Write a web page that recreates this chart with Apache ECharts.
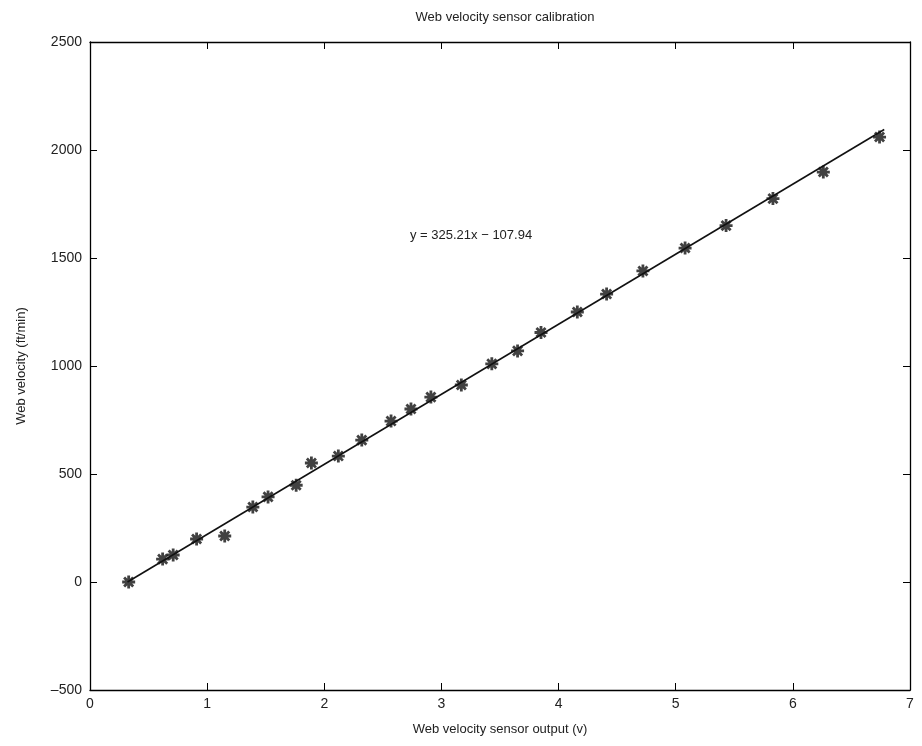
<!DOCTYPE html>
<html><head><meta charset="utf-8">
<script src="https://cdn.jsdelivr.net/npm/echarts@6/dist/echarts.min.js"></script>
<style>html,body{margin:0;padding:0;background:#fff}#c{width:922px;height:746px}</style>
</head><body><div id="c"></div>
<script>
const sensorOutput = [0.33, 0.62, 0.71, 0.91, 1.15, 1.39, 1.52, 1.76, 1.89, 2.12, 2.32, 2.57, 2.74, 2.91, 3.17, 3.43, 3.65, 3.85, 4.16, 4.41, 4.72, 5.08, 5.43, 5.83, 6.26, 6.74];
const velocity     = [0, 106, 125, 199, 213, 347, 394, 448, 551, 583, 657, 745, 801, 856, 912, 1010, 1070, 1155, 1250, 1333, 1440, 1546, 1650, 1775, 1898, 2060];
const fitLineX = [0.32, 6.78];
const fitLineY = [0, 2095];
const xTicks = [0, 7, 1];
const yTicks = [-500, 2500, 500];
const titleText = 'Web velocity sensor calibration';
const xName = 'Web velocity sensor output (v)';
const yName = 'Web velocity (ft/min)';
const eqText = 'y = 325.21x \u2212 107.94';

const font = 'Liberation Sans, Arial, sans-serif';
const chart = echarts.init(document.getElementById('c'));
const star = 'path://M0 5 L10 5 M5 0 L5 10 M1.5 1.5 L8.5 8.5 M8.5 1.5 L1.5 8.5';
function axisCommon() {
  return {
    axisLine: {show: true, onZero: false, lineStyle: {color: '#000', width: 1.3}},
    axisTick: {show: true, inside: true, length: 7, lineStyle: {color: '#000'}},
    splitLine: {show: false}
  };
}
const lbl = {fontFamily: font, fontSize: 14, color: '#222', formatter: v => String(v).replace('-', '\u2013')};
chart.setOption({
  animation: false,
  backgroundColor: '#fff',
  title: {text: titleText, left: 500, top: 6, textAlign: 'center',
    textStyle: {fontFamily: font, fontSize: 13, fontWeight: 'normal', color: '#222'}},
  grid: {left: 90, right: 12, top: 42, bottom: 56},
  xAxis: [
    Object.assign({type: 'value', min: xTicks[0], max: xTicks[1], interval: xTicks[2],
      name: xName, nameLocation: 'middle', nameGap: 33,
      nameTextStyle: {fontFamily: font, fontSize: 13, color: '#222'},
      axisLabel: Object.assign({margin: 7}, lbl)}, axisCommon()),
    Object.assign({type: 'value', position: 'top', min: xTicks[0], max: xTicks[1], interval: xTicks[2],
      axisLabel: {show: false}}, axisCommon())
  ],
  yAxis: [
    Object.assign({type: 'value', min: yTicks[0], max: yTicks[1], interval: yTicks[2],
      name: yName, nameLocation: 'middle', nameGap: 62,
      nameTextStyle: {fontFamily: font, fontSize: 13, color: '#222'},
      axisLabel: Object.assign({margin: 8}, lbl)}, axisCommon()),
    Object.assign({type: 'value', position: 'right', min: yTicks[0], max: yTicks[1], interval: yTicks[2],
      axisLabel: {show: false}}, axisCommon())
  ],
  series: [
    {type: 'line', data: fitLineX.map((x, i) => [x, fitLineY[i]]), showSymbol: false,
      lineStyle: {color: '#111', width: 1.6}, z: 2},
    {type: 'scatter', data: sensorOutput.map((x, i) => [x, velocity[i]]),
      symbol: star, symbolSize: 13,
      itemStyle: {color: 'rgba(0,0,0,0)', borderColor: '#111', borderWidth: 2.8}, z: 3}
  ],
  graphic: [{type: 'text', left: 410, top: 229,
    style: {text: eqText, font: '13px ' + font, fill: '#222'}}]
});
</script></body></html>
